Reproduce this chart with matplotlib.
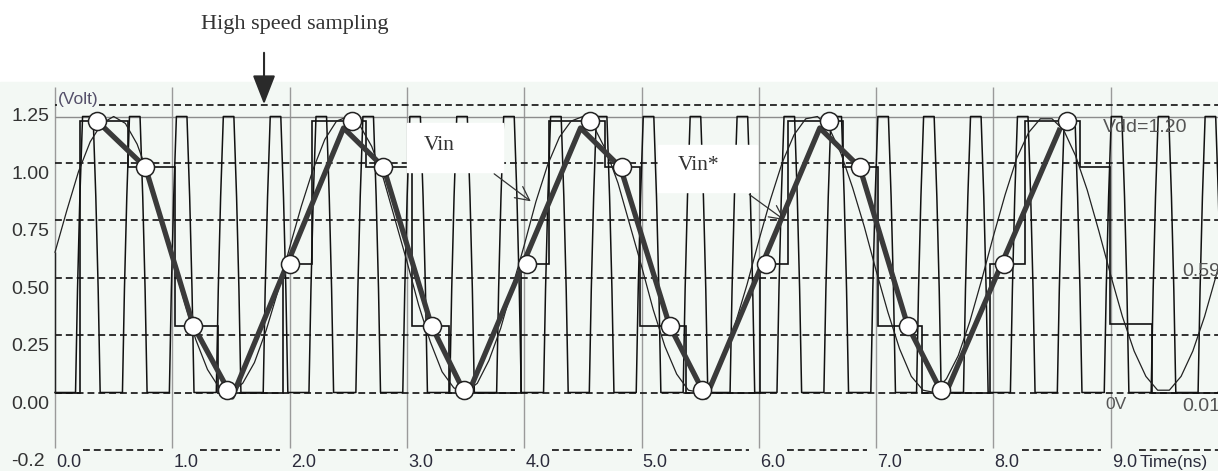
import numpy as np
import matplotlib
matplotlib.use('Agg')
import matplotlib.pyplot as plt
from matplotlib.patches import Rectangle, FancyArrowPatch

plt.rcParams['font.family'] = ['Liberation Sans', 'DejaVu Sans']

# --- data (time in ns, voltage in V) ---
x_ticks = [0, 1, 2, 3, 4, 5, 6, 7, 8, 9]
x_labels = ['0.0', '1.0', '2.0', '3.0', '4.0', '5.0', '6.0', '7.0', '8.0', '9.0']
y_grid = [-0.25, 0.0, 0.25, 0.5, 0.75, 1.0, 1.25]
y_labels = ['-0.2', '0.00', '0.25', '0.50', '0.75', '1.00', '1.25']
vdd = 1.20

# Vin, read every 0.1 ns
vin_t = np.arange(0, 10.01, 0.1)
vin_v = [0.61, 0.79, 0.96, 1.09, 1.17, 1.20, 1.17, 1.08, 0.94, 0.77,
         0.58, 0.40, 0.23, 0.10, 0.02, 0.00, 0.04, 0.13, 0.27, 0.44,
         0.63, 0.81, 0.97, 1.10, 1.18, 1.20, 1.16, 1.07, 0.93, 0.75,
         0.57, 0.38, 0.22, 0.09, 0.02, 0.00, 0.04, 0.14, 0.28, 0.46,
         0.64, 0.83, 0.99, 1.11, 1.18, 1.20, 1.15, 1.05, 0.91, 0.73,
         0.55, 0.36, 0.20, 0.08, 0.01, 0.00, 0.05, 0.15, 0.30, 0.47,
         0.66, 0.84, 1.00, 1.12, 1.19, 1.20, 1.15, 1.04, 0.89, 0.72,
         0.53, 0.35, 0.19, 0.07, 0.01, 0.00, 0.06, 0.16, 0.31, 0.49,
         0.68, 0.86, 1.02, 1.13, 1.19, 1.19, 1.14, 1.03, 0.88, 0.70,
         0.51, 0.33, 0.18, 0.07, 0.01, 0.01, 0.07, 0.18, 0.33, 0.51, 0.70]

# sampled points (circles)
samp_t = [0.36, 0.77, 1.18, 1.47, 2.00, 2.53, 2.80, 3.21, 3.49, 4.02,
          4.56, 4.83, 5.24, 5.52, 6.06, 6.60, 6.86, 7.27, 7.55, 8.09, 8.63]
samp_v = [1.18, 0.98, 0.29, 0.01, 0.56, 1.18, 0.98, 0.29, 0.01, 0.56,
          1.18, 0.98, 0.29, 0.01, 0.56, 1.18, 0.98, 0.29, 0.01, 0.56, 1.18]

# Vin* (thick reconstructed line)
vstar_t = [0.36, 0.77, 1.18, 1.51, 2.46, 2.80, 3.21, 3.51, 4.48, 4.82,
           5.24, 5.55, 6.52, 6.86, 7.27, 7.58, 8.57]
vstar_v = [1.18, 0.98, 0.29, -0.02, 1.15, 0.98, 0.29, -0.02, 1.15, 0.98,
           0.29, -0.02, 1.15, 0.98, 0.29, -0.02, 1.15]

# sample & hold staircase
hold_edges = [0.00, 0.21, 0.62, 1.02, 1.39, 1.94, 2.19, 2.65, 3.04, 3.36,
              3.97, 4.21, 4.69, 4.99, 5.38, 6.01, 6.25, 6.72, 7.02, 7.39,
              7.97, 8.27, 8.74, 8.99, 9.35, 9.92]
hold_levels = [0, 1.18, 0.98, 0.29, 0, 0.56, 1.18, 0.98, 0.29, 0,
               0.56, 1.18, 0.98, 0.29, 0, 0.56, 1.18, 0.98, 0.29, 0,
               0.56, 1.18, 0.98, 0.30, 0]

# high speed sampling clock, pulse centres
pulse_t = [0.28, 0.68, 1.08, 1.48, 1.88, 2.27, 2.67, 3.07, 3.47, 3.87,
           4.27, 4.66, 5.06, 5.46, 5.86, 6.26, 6.66, 7.06, 7.45, 7.85,
           8.25, 8.65, 9.05, 9.45, 9.85]

# --- figure: one axes over the whole canvas, 117.3 px/ns, 230 px/V ---
W, H = 1218, 471
fig = plt.figure(figsize=(W / 100, H / 100), dpi=100)
ax = fig.add_axes([0, 0, 1, 1])
x0, sx = 55, 117.3
y0, sy = 392.5, 230
xmin, xmax = -x0 / sx, (W - x0) / sx
ymin, ymax = (y0 - H) / sy, y0 / sy
ax.set_xlim(xmin, xmax)
ax.set_ylim(ymin, ymax)
ax.axis('off')

bg = '#f3f8f4'
ax.add_patch(Rectangle((xmin, ymin), xmax - xmin, 1.35 - ymin, color=bg, zorder=0))

# grid
ax.vlines(x_ticks, -0.24, 1.33, color='#9a9a9a', lw=1.0, zorder=1)
ax.hlines(y_grid[1:], 0, xmax, color='#222222', lw=1.3,
          linestyles=(0, (3.8, 2.2)), zorder=1)
for k in x_ticks:
    ax.plot([k + 0.24, k + 0.92], [-0.25, -0.25], color='#222222', lw=1.3,
            ls=(0, (3.8, 2.2)), zorder=1)
ax.hlines(vdd, 0, xmax, color='#8c8c8c', lw=1.0, zorder=1)

# clock pulses: trapezoids with slightly kinked edges
lv = [0, 0.45, 0.85, vdd]
hw = [0.105, 0.088, 0.068, 0.045]
px, py = [0.0], [0.0]
for c in pulse_t:
    px += [c - h for h in hw] + [c + h for h in hw[::-1]]
    py += lv + lv[::-1]
px.append(xmax)
py.append(0.0)
ax.plot(px, py, color='#111111', lw=1.1, zorder=2)

# staircase, Vin, Vin*, samples
ax.stairs(hold_levels, hold_edges, baseline=None, color='#111111', lw=1.2, zorder=3)
ax.vlines(vin_t[0], 0, vin_v[0], color='#222222', lw=1.0, zorder=3)
ax.plot(vin_t, vin_v, color='#222222', lw=0.9, zorder=3)
ax.plot(vstar_t, vstar_v, color='#3a3a3a', lw=3.8, solid_capstyle='butt', zorder=4)
ax.plot(samp_t, samp_v, 'o', ms=13, mfc='white', mec='#222222', mew=1.1, zorder=5)

# tick labels
for k, lab in zip(x_ticks, x_labels):
    ax.text(k + 0.01, -0.304, lab, ha='left', va='center', fontsize=13, color='#2b2b3b')
for v, lab in zip(y_grid, y_labels):
    ax.text(-0.375, v - 0.052, lab, ha='left', va='center', fontsize=14, color='#333333')
ax.text(9.25, -0.304, 'Time(ns)', ha='left', va='center', fontsize=12.5, color='#2b2b3b')
ax.text(0.026, 1.273, '(Volt)', ha='left', va='center', fontsize=12.5, color='#55506a',
        bbox=dict(facecolor=bg, edgecolor='none', pad=0.5), zorder=6)
ax.text(8.934, 1.150, 'Vdd=1.20', ha='left', va='center', fontsize=14, color='#555555', zorder=6)
ax.text(9.608, 0.524, '0.59', ha='left', va='center', fontsize=14, color='#555555', zorder=6)
ax.text(8.951, -0.054, '0V', ha='left', va='center', fontsize=12.5, color='#555555', zorder=6)
ax.text(9.608, -0.059, '0.01', ha='left', va='center', fontsize=14, color='#555555', zorder=6)

# annotations
ax.text(2.046, 1.598, 'High speed sampling', ha='center', va='center',
        family='Liberation Serif', fontsize=16, color='#333333')
ax.add_patch(FancyArrowPatch((1.782, 1.489), (1.782, 1.241),
                             arrowstyle='-|>,head_length=0.9,head_width=0.35',
                             mutation_scale=20, color='#2a2a2a', lw=1.5, zorder=7))

ax.add_patch(Rectangle((3.00, 0.959), 0.82, 0.213, color='white', zorder=6))
ax.text(3.14, 1.076, 'Vin', ha='left', va='center', family='Liberation Serif',
        fontsize=15.5, color='#333333', zorder=7)
ax.add_patch(FancyArrowPatch((3.725, 0.958), (4.075, 0.824), arrowstyle='->,head_length=0.5,head_width=0.25',
                             mutation_scale=20, color='#333333', lw=0.9, zorder=7))

ax.add_patch(Rectangle((5.14, 0.871), 0.845, 0.205, color='white', zorder=6))
ax.text(5.31, 0.985, 'Vin*', ha='left', va='center', family='Liberation Serif',
        fontsize=15.5, color='#333333', zorder=7)
ax.add_patch(FancyArrowPatch((5.90, 0.868), (6.24, 0.742), arrowstyle='->,head_length=0.5,head_width=0.25',
                             mutation_scale=20, color='#333333', lw=0.9, zorder=7))

fig.savefig('out.png', dpi=100, facecolor='white')
